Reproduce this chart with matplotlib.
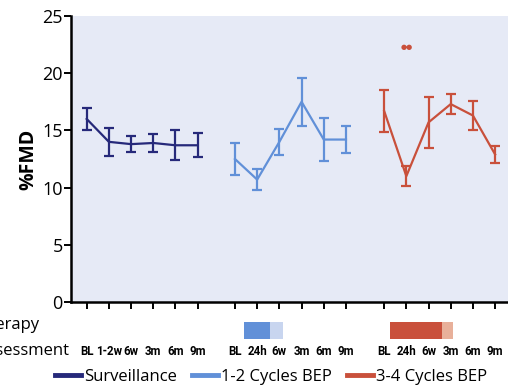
import matplotlib
matplotlib.use('Agg')
import matplotlib.pyplot as plt
from matplotlib.lines import Line2D
import numpy as np

plt.rcParams['font.family'] = ['Open Sans', 'DejaVu Sans']

# data (%FMD, mean and SEM)
surv_labels = ["BL", "1-2w", "6w", "3m", "6m", "9m"]
surv_mean = [16.0, 14.0, 13.8, 13.9, 13.7, 13.7]
surv_err = [1.0, 1.2, 0.7, 0.75, 1.3, 1.05]

bep12_labels = ["BL", "24h", "6w", "3m", "6m", "9m"]
bep12_mean = [12.5, 10.7, 14.0, 17.5, 14.2, 14.2]
bep12_err = [1.4, 0.9, 1.15, 2.1, 1.85, 1.2]

bep34_labels = ["BL", "24h", "6w", "3m", "6m", "9m"]
bep34_mean = [16.7, 11.0, 15.7, 17.3, 16.3, 12.9]
bep34_err = [1.8, 0.9, 2.2, 0.9, 1.25, 0.75]

group_names = ["Surveillance", "1-2 Cycles BEP", "3-4 Cycles BEP"]
group_offsets = [0.0, 6.68, 13.4]
sig_mark = "●●"
sig_y = 22.3

# therapy bars: (start, end) relative to group BL, dark then light part
bep12_therapy = [(0.42, 1.58), (1.58, 2.15)]
bep34_therapy = [(0.26, 2.6), (2.6, 3.1)]

c_surv = "#26297a"
c_b12 = "#6190d8"
c_b34 = "#c9503b"
c_b12_light = "#c8d5ef"
c_b34_light = "#e8b09a"

fig = plt.figure(figsize=(5.08, 3.89), dpi=100)
ax = fig.add_axes([71/508, 1-302/389, 1-71/508, 286/389])
ax.set_facecolor("#e6eaf6")

groups = [(surv_mean, surv_err, surv_labels, c_surv),
          (bep12_mean, bep12_err, bep12_labels, c_b12),
          (bep34_mean, bep34_err, bep34_labels, c_b34)]

ticks, ticklabels = [], []
for (m, e, labs, col), off in zip(groups, group_offsets):
    x = np.arange(len(m)) + off
    ax.errorbar(x, m, yerr=e, color=col, lw=1.6, elinewidth=1.6,
                capsize=3.6, capthick=1.6, clip_on=False)
    ticks += list(x)
    ticklabels += labs

# significance dots over 3-4 cycles 24h
ax.text(group_offsets[2] + 1, sig_y, sig_mark, color=c_b34, ha='center',
        va='center', fontsize=5, family='DejaVu Sans')

# therapy bars below the axis
for parts, off, cols in [(bep12_therapy, group_offsets[1], (c_b12, c_b12_light)),
                         (bep34_therapy, group_offsets[2], (c_b34, c_b34_light))]:
    for (a, b), col in zip(parts, cols):
        ax.add_patch(plt.Rectangle((off + a, -3.22), b - a, 1.47, color=col,
                                   clip_on=False, lw=0))

ax.set_xlim(-0.707, 18.98)
ax.set_ylim(0, 25)
ax.set_yticks([0, 5, 10, 15, 20, 25])
ax.set_xticks(ticks)
ax.set_xticklabels(ticklabels, fontsize=8.3, fontweight='bold', family='Roboto')
ax.tick_params(axis='x', length=5, width=1.4, pad=26, colors='black')
ax.tick_params(axis='y', length=5, width=1.4, pad=1, labelsize=13)
for s in ['top', 'right']:
    ax.spines[s].set_visible(False)
for s in ['left', 'bottom']:
    ax.spines[s].set_linewidth(1.8)
ax.set_ylabel("%FMD", fontsize=14, fontweight='bold', labelpad=3)

fig.text(-0.045, 1-325/389, "Therapy", ha='left', va='center', fontsize=12)
fig.text(-0.045, 1-351/389, "Assessment", ha='left', va='center', fontsize=12)

handles = [Line2D([], [], color=c, lw=3.5) for c in (c_surv, c_b12, c_b34)]
fig.legend(handles, group_names, loc='center', bbox_to_anchor=(0.533, 0.032),
           ncol=3, frameon=False, fontsize=12, handlelength=1.6,
           handletextpad=0.15, columnspacing=0.9, borderpad=0)

fig.savefig("out.png", dpi=100)
